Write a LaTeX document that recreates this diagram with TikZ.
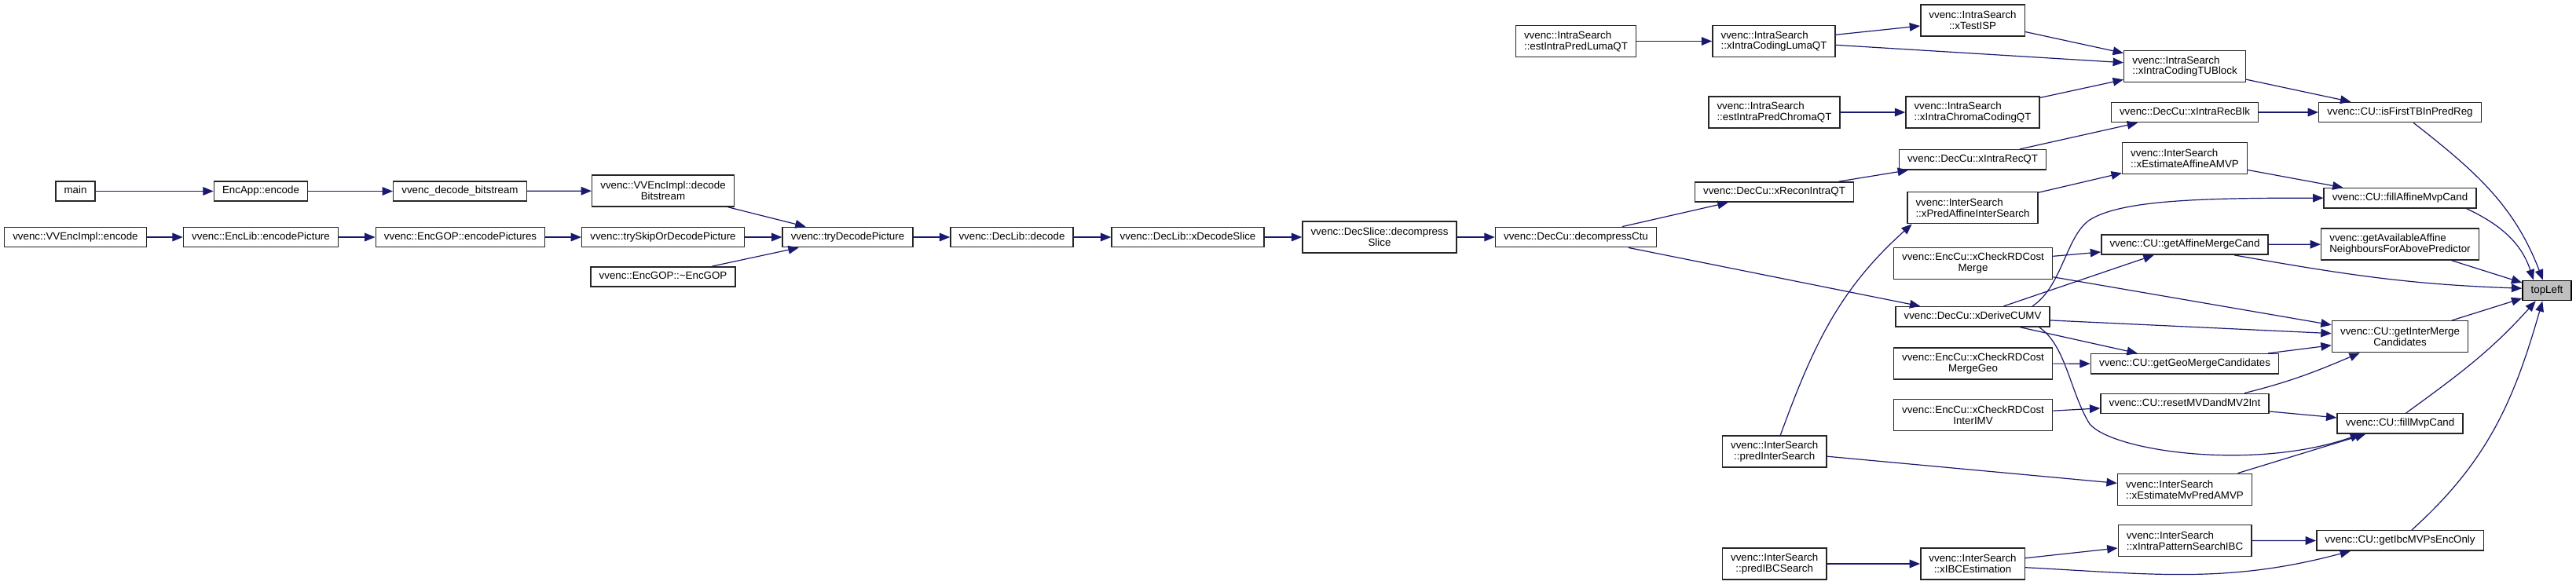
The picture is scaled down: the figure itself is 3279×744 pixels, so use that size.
\documentclass[tikz,border=0pt]{standalone}
\usepackage{fontspec}
\setmainfont{Liberation Sans}
\usepackage{tikz}
\usetikzlibrary{arrows.meta, calc}
\definecolor{edgeblue}{HTML}{191970}
\definecolor{markgrey}{HTML}{BFBFBF}
\tikzstyle{fn} = [draw=black!85, line width=1.1pt, fill=white, inner xsep=8pt, inner ysep=3pt, font=\fontsize{10pt}{10.4pt}\selectfont]
\tikzstyle{fnone} = [fn, minimum height=19pt, text height=7.3pt, text depth=2.1pt]
\tikzstyle{fntwo} = [fn, minimum height=30pt, align=center]
\tikzstyle{fnleft} = [fn, minimum height=30pt, align=left]
\tikzstyle{call} = [draw=edgeblue, line width=0.9pt, -{Triangle[length=10pt, width=8pt]}]
\begin{document}
\begin{tikzpicture}[x=0.75pt, y=-0.75pt]
\useasboundingbox (0,0) rectangle (3279,744);
\node[fnone] (main) at (96,243.5) {main};
\node[fnone] (encapp) at (332,243.5) {EncApp::encode};
\node[fnone] (decbs) at (585.5,243.5) {vvenc\_decode\_bitstream};
\node[fnone] (implenc) at (96,302) {vvenc::VVEncImpl::encode};
\node[fnone] (libpic) at (332,302) {vvenc::EncLib::encodePicture};
\node[fnone] (goppics) at (586,302) {vvenc::EncGOP::encodePictures};
\node[fntwo] (impldec) at (844,243) {vvenc::VVEncImpl::decode\\Bitstream};
\node[fnone] (tryskip) at (844,302) {vvenc::trySkipOrDecodePicture};
\node[fnone] (gopdtor) at (844,352.5) {vvenc::EncGOP::\textasciitilde{}EncGOP};
\node[fnone] (trydec) at (1079,302) {vvenc::tryDecodePicture};
\node[fnone] (libdec) at (1288,302) {vvenc::DecLib::decode};
\node[fnone] (xdecslice) at (1512,302) {vvenc::DecLib::xDecodeSlice};
\node[fntwo] (decslice) at (1756,302) {vvenc::DecSlice::decompress\\Slice};
\node[fnone] (decctu) at (2006,302) {vvenc::DecCu::decompressCtu};
\node[fnleft] (estluma) at (2006,52.5) {vvenc::IntraSearch\\::estIntraPredLumaQT};
\node[fnleft] (codluma) at (2258,52.5) {vvenc::IntraSearch\\::xIntraCodingLumaQT};
\node[fntwo] (testisp) at (2511,26) {vvenc::IntraSearch\\::xTestISP};
\node[fnleft] (tublock) at (2781,84.5) {vvenc::IntraSearch\\::xIntraCodingTUBlock};
\node[fnleft] (estchroma) at (2258.5,143) {vvenc::IntraSearch\\::estIntraPredChromaQT};
\node[fnleft] (codchroma) at (2511,143) {vvenc::IntraSearch\\::xIntraChromaCodingQT};
\node[fnone] (recblk) at (2781,143) {vvenc::DecCu::xIntraRecBlk};
\node[fnone] (firsttb) at (3055,143) {vvenc::CU::isFirstTBInPredReg};
\node[fnone] (recqt) at (2511,203.3) {vvenc::DecCu::xIntraRecQT};
\node[fnone] (reconqt) at (2258.5,244.5) {vvenc::DecCu::xReconIntraQT};
\node[fnleft] (affamvp) at (2781,201.7) {vvenc::InterSearch\\::xEstimateAffineAMVP};
\node[fnleft] (predaff) at (2511,264.7) {vvenc::InterSearch\\::xPredAffineInterSearch};
\node[fnone] (fillaff) at (3055,252.3) {vvenc::CU::fillAffineMvpCand};
\node[fntwo] (rdmerge) at (2511.5,335.3) {vvenc::EncCu::xCheckRDCost\\Merge};
\node[fnone] (affmerge) at (2781,311.5) {vvenc::CU::getAffineMergeCand};
\node[fnleft] (availaff) at (3055,311) {vvenc::getAvailableAffine\\NeighboursForAbovePredictor};
\node[fnone] (derivemv) at (2511,403.3) {vvenc::DecCu::xDeriveCUMV};
\node[fnone, fill=markgrey, draw=black] (topleft) at (3242,370) {topLeft};
\node[fntwo] (intermerge) at (3055,428.7) {vvenc::CU::getInterMerge\\Candidates};
\node[fntwo] (rdgeo) at (2511.5,463) {vvenc::EncCu::xCheckRDCost\\MergeGeo};
\node[fnone] (geomerge) at (2781,463.3) {vvenc::CU::getGeoMergeCandidates};
\node[fntwo] (rdimv) at (2511.5,528.7) {vvenc::EncCu::xCheckRDCost\\InterIMV};
\node[fnone] (resetmvd) at (2781,514) {vvenc::CU::resetMVDandMV2Int};
\node[fnone] (fillmvp) at (3055,539.3) {vvenc::CU::fillMvpCand};
\node[fntwo] (predinter) at (2258.7,575) {vvenc::InterSearch\\::predInterSearch};
\node[fnleft] (mvpamvp) at (2781,623.3) {vvenc::InterSearch\\::xEstimateMvPredAMVP};
\node[fnleft] (patibc) at (2781,688.7) {vvenc::InterSearch\\::xIntraPatternSearchIBC};
\node[fnone] (ibcmvps) at (3055,688.3) {vvenc::CU::getIbcMVPsEncOnly};
\node[fntwo] (predibc) at (2258.7,718) {vvenc::InterSearch\\::predIBCSearch};
\node[fntwo] (ibcest) at (2511,718) {vvenc::InterSearch\\::xIBCEstimation};
\draw[call] (main) -- (encapp);
\draw[call] (encapp) -- (decbs);
\draw[call] (decbs) -- (impldec);
\draw[call] (implenc) -- (libpic);
\draw[call] (libpic) -- (goppics);
\draw[call] (goppics) -- (tryskip);
\draw[call] (impldec) -- (trydec);
\draw[call] (tryskip) -- (trydec);
\draw[call] (gopdtor) -- (trydec);
\draw[call] (trydec) -- (libdec);
\draw[call] (libdec) -- (xdecslice);
\draw[call] (xdecslice) -- (decslice);
\draw[call] (decslice) -- (decctu);
\draw[call] (decctu) -- (reconqt);
\draw[call] (decctu) -- (derivemv);
\draw[call] (estluma) -- (codluma);
\draw[call] (codluma) -- (testisp);
\draw[call] (codluma) -- (tublock);
\draw[call] (testisp) -- (tublock);
\draw[call] (estchroma) -- (codchroma);
\draw[call] (codchroma) -- (tublock);
\draw[call] (reconqt) -- (recqt);
\draw[call] (recqt) -- (recblk);
\draw[call] (tublock) -- (firsttb);
\draw[call] (recblk) -- (firsttb);
\draw[call] (firsttb) to[out=-38, in=111] (topleft);
\draw[call] (predaff) -- (affamvp);
\draw[call] (affamvp) -- (fillaff);
\draw[call] (predinter.70) to[out=70, in=-138] (predaff.-165);
\draw[call] (derivemv) -- (affmerge);
\draw[call] (derivemv.10) .. controls (2625,365) and (2630,300) .. (2660,280) .. controls (2700,255) and (2800,252) .. (fillaff);
\draw[call] (fillaff.-9.5) to[out=-25, in=108] (topleft.142);
\draw[call] (rdmerge) -- (affmerge);
\draw[call] (rdmerge) -- (intermerge);
\draw[call] (affmerge) -- (availaff);
\draw[call] (affmerge.-12) to[out=-10, in=178] (topleft.175);
\draw[call] (availaff) -- (topleft);
\draw[call] (intermerge) -- (topleft);
\draw[call] (derivemv) -- (intermerge);
\draw[call] (derivemv) -- (geomerge);
\draw[call] (rdgeo) -- (geomerge);
\draw[call] (geomerge) -- (intermerge);
\draw[call] (rdimv) -- (resetmvd);
\draw[call] (resetmvd.10.7) to[out=14, in=-157] (intermerge.-158);
\draw[call] (resetmvd) -- (fillmvp);
\draw[call] (derivemv.-9) .. controls (2630,440) and (2635,500) .. (2660,540) .. controls (2690,575) and (2870,600) .. (fillmvp.-165);
\draw[call] (mvpamvp) -- (fillmvp);
\draw[call] (predinter) -- (mvpamvp);
\draw[call] (fillmvp.60) to[out=36, in=-132] (topleft.-137);
\draw[call] (predibc) -- (ibcest);
\draw[call] (ibcest) -- (patibc);
\draw[call] (ibcest.-4) to[out=-3, in=-165] (ibcmvps.-168);
\draw[call] (patibc) -- (ibcmvps);
\draw[call] (ibcmvps.42) to[out=42, in=-106] (topleft.-113);
\end{tikzpicture}
\end{document}
